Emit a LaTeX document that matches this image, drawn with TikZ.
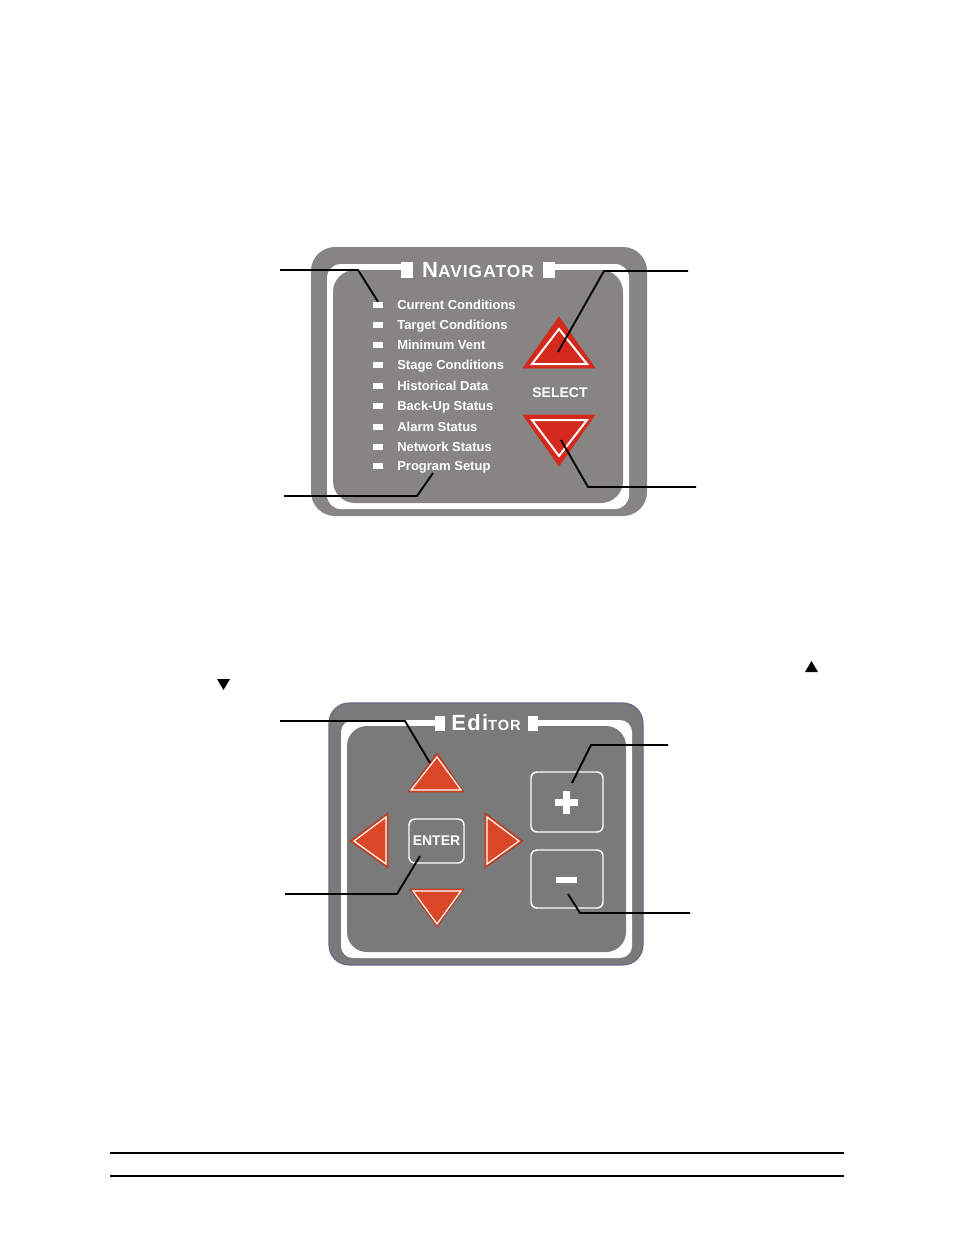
\documentclass[tikz,border=0pt]{standalone}
\usepackage{fontspec}
\setmainfont{Liberation Sans}
\definecolor{navgray}{HTML}{868584}
\definecolor{edgray}{HTML}{7A7A7A}
\definecolor{edborder}{HTML}{6B6687}
\definecolor{navred}{HTML}{D42A1E}
\definecolor{edred}{HTML}{DA4726}
\begin{document}
\begin{tikzpicture}[x=0.75pt,y=-0.75pt,
  lbl/.style={anchor=west, inner sep=0pt, text=white, text height=7pt, text depth=0pt,
    font=\fontsize{9.75}{11}\selectfont\bfseries},
  led/.style={fill=white, draw=none, inner sep=0pt, minimum width=7.5pt, minimum height=4.5pt},
  conn/.style={draw=black, line width=1.4pt},
  btn/.style={draw=white, line width=1.1pt, rounded corners=4.5pt, fill=edgray},
  navtri/.style={fill=navred, draw=navred, line width=0.5pt},
  navin/.style={draw=white, line width=1.5pt},
  edtri/.style={fill=edred, draw=edred!80!black, line width=0.5pt},
  edin/.style={draw=white, line width=0.9pt, line join=miter},
  ttl/.style={text=white, inner sep=0pt, font=\bfseries}]
\useasboundingbox (0,0) rectangle (954,1235);
\fill[white] (0,0) rectangle (954,1235);

% ================= NAVIGATOR panel =================
\fill[navgray, rounded corners=18pt] (311,247) rectangle (647,516);
\fill[white, rounded corners=10.5pt] (327,264) rectangle (629,509);
\fill[navgray, rounded corners=16.5pt] (333,270) rectangle (623,503);
% title holder
\fill[navgray] (413,258) rectangle (543,272);
\fill[white] (401,262) rectangle (413,278);
\fill[white] (543,262) rectangle (555,278);
\node[ttl] (navtitle) at (478,270) {\addfontfeature{LetterSpace=6}{\fontsize{16.5}{17}\selectfont N}{\fontsize{13}{14}\selectfont AVIGATOR}};

% LEDs and labels
\foreach \i/\y/\t in {1/305/Current Conditions, 2/325/Target Conditions, 3/345/Minimum Vent,
  4/365/Stage Conditions, 5/386/Historical Data, 6/406/Back-Up Status, 7/427/Alarm Status,
  8/447/Network Status, 9/466/Program Setup}{
  \node[led] (led\i) at (378,\y) {};
  \node[lbl] (lab\i) at (397,\y) {\t};
}

% SELECT triangles
\draw[navtri] (559,317) -- (595,368) -- (523,368) -- cycle;
\draw[navin] (559,329) -- (587,364) -- (532,364) -- cycle;
\coordinate (upsel) at (558,352);
\node[text=white, inner sep=0pt, font=\fontsize{10.5}{12}\selectfont\bfseries] (select) at (560,393) {SELECT};
\draw[navtri] (523,415) -- (595,415) -- (559,466) -- cycle;
\draw[navin] (532,420) -- (587,420) -- (559,456) -- cycle;
\coordinate (dnsel) at (561,440);

% Navigator connectors
\coordinate (n1s) at (280,270);
\coordinate (n1k) at (358,270);
\draw[conn] (n1s) -- (n1k) -- (led1.north);
\coordinate (n2s) at (284,496);
\coordinate (n2k) at (417,496);
\coordinate (n2e) at (433,473);
\draw[conn] (n2s) -- (n2k) -- (n2e);
\coordinate (n3s) at (688,271);
\coordinate (n3k) at (604,271);
\draw[conn] (n3s) -- (n3k) -- (upsel);
\coordinate (n4s) at (696,487);
\coordinate (n4k) at (588,487);
\draw[conn] (n4s) -- (n4k) -- (dnsel);

% small black triangles
\fill[black] (805,672) -- (818,672) -- (811.5,661) -- cycle;
\fill[black] (217,679) -- (230,679) -- (223.5,690) -- cycle;

% ================= EDITOR panel =================
\filldraw[fill=edgray, draw=edborder, line width=0.8pt, rounded corners=15pt] (329,703) rectangle (643,965);
\fill[white, rounded corners=9pt] (341,720) rectangle (632,958);
\fill[edgray, rounded corners=15pt] (347,726) rectangle (626,952);
\fill[edgray] (445,716) rectangle (528,728);
\fill[white] (435,716) rectangle (445,731);
\fill[white] (528,716) rectangle (538,731);
\node[ttl] (edtitle) at (486,723) {\addfontfeature{LetterSpace=6}{\fontsize{16.5}{17}\selectfont Edi}{\fontsize{11}{12}\selectfont TOR}};

% arrow keys
\draw[edtri] (437,753) -- (464,792) -- (408,792) -- cycle;
\draw[edin] (437,757) -- (461,790) -- (411,790) -- cycle;
\draw[edtri] (410,889) -- (464,889) -- (437,927) -- cycle;
\draw[edin] (413,891) -- (461,891) -- (437,924) -- cycle;
\draw[edtri] (350,841) -- (388,813) -- (388,868) -- cycle;
\draw[edin] (354,841) -- (386,817) -- (386,864) -- cycle;
\draw[edtri] (523,841) -- (485,813) -- (485,868) -- cycle;
\draw[edin] (519,841) -- (487,817) -- (487,864) -- cycle;
\coordinate (upkey) at (430,763);

% ENTER, plus, minus
\node[btn, minimum width=41.25pt, minimum height=33pt, inner sep=0pt,
  text=white, font=\fontsize{10.5}{12}\selectfont\bfseries] (enter) at (436.5,841) {ENTER};
\node[btn, minimum width=54pt, minimum height=45pt] (plus) at (567,802) {};
\node[btn, minimum width=54pt, minimum height=43.5pt] (minus) at (567,879) {};
\fill[white] (555,799) rectangle (578,806);
\fill[white] (563,791) rectangle (570,814);
\fill[white] (556,877) rectangle (577,883);

% Editor connectors
\coordinate (e1s) at (280,721);
\coordinate (e1k) at (405,721);
\draw[conn] (e1s) -- (e1k) -- (upkey);
\coordinate (e2s) at (285,894);
\coordinate (e2k) at (397,894);
\coordinate (e2e) at (420,856);
\draw[conn] (e2s) -- (e2k) -- (e2e);
\coordinate (e3s) at (668,745);
\coordinate (e3k) at (591,745);
\coordinate (e3e) at (572,783);
\draw[conn] (e3s) -- (e3k) -- (e3e);
\coordinate (e4s) at (690,913);
\coordinate (e4k) at (580,913);
\coordinate (e4e) at (568,894);
\draw[conn] (e4s) -- (e4k) -- (e4e);

% bottom rules
\draw[line width=2pt] (110,1153) -- (844,1153);
\draw[line width=2pt] (110,1176) -- (844,1176);
\end{tikzpicture}
\end{document}
